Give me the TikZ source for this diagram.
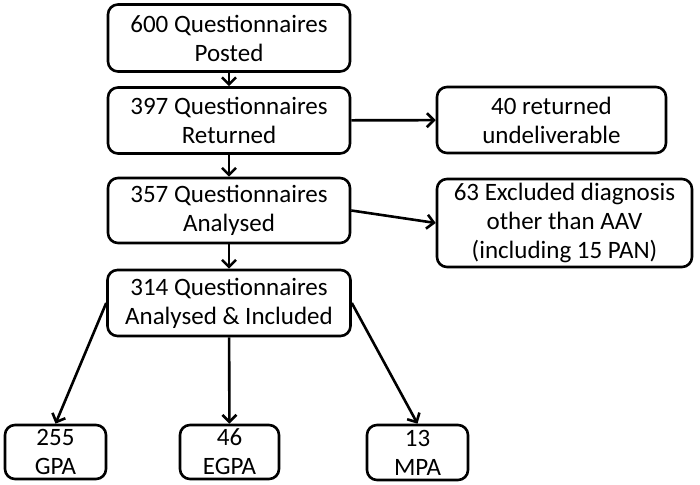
\documentclass[tikz,border=0pt]{standalone}
\usepackage{fontspec}
\setmainfont{Carlito}
\usepackage{tikz}
\usetikzlibrary{arrows.meta}

\begin{document}
\begin{tikzpicture}[x=0.5pt, y=-0.5pt]
\tikzstyle{box}=[draw, line width=1.3pt, rounded corners=5pt, align=center, inner sep=0pt, font=\fontsize{12.5pt}{14.5pt}\selectfont]
\tikzstyle{arrow}=[-{Straight Barb[length=3.5pt,width=7pt]}, line width=1.3pt]
\useasboundingbox (0,0) rectangle (700,485);
\node (A) [box, minimum width=121pt, minimum height=33.5pt] at (229,38)    {600 Questionnaires\\Posted};
\node (B) [box, minimum width=121pt, minimum height=33pt]   at (229,120.5) {397 Questionnaires\\Returned};
\draw [arrow] (A) -- (B);
\node (R) [box, minimum width=114.5pt, minimum height=33pt] at (551.5,120) {40 returned\\undeliverable};
\draw [arrow] (B) -- (R);
\node (C) [box, minimum width=121pt, minimum height=32.5pt] at (229,210.5) {357 Questionnaires\\Analysed};
\draw [arrow] (B) -- (C);
\node (X) [box, minimum width=127.5pt, minimum height=44pt] at (564.5,223) {63 Excluded diagnosis\\other than AAV\\(including 15 PAN)};
\draw [arrow] (C.east) -- (X.west);
\node (D) [box, minimum width=121.5pt, minimum height=33pt] at (229,303)   {314 Questionnaires\\Analysed \& Included};
\draw [arrow] (C) -- (D);
\node (G) [box, minimum width=50.5pt, minimum height=27pt]  at (55.5,452)  {255\\GPA};
\node (E) [box, minimum width=49.5pt, minimum height=27pt]  at (229.5,452) {46\\EGPA};
\node (M) [box, minimum width=50.5pt, minimum height=27.5pt] at (417.5,452.5) {13\\MPA};
\draw [arrow] (D.west) -- (G.north);
\draw [arrow] (D) -- (E);
\draw [arrow] (D.east) -- (M.north);
\end{tikzpicture}
\end{document}
